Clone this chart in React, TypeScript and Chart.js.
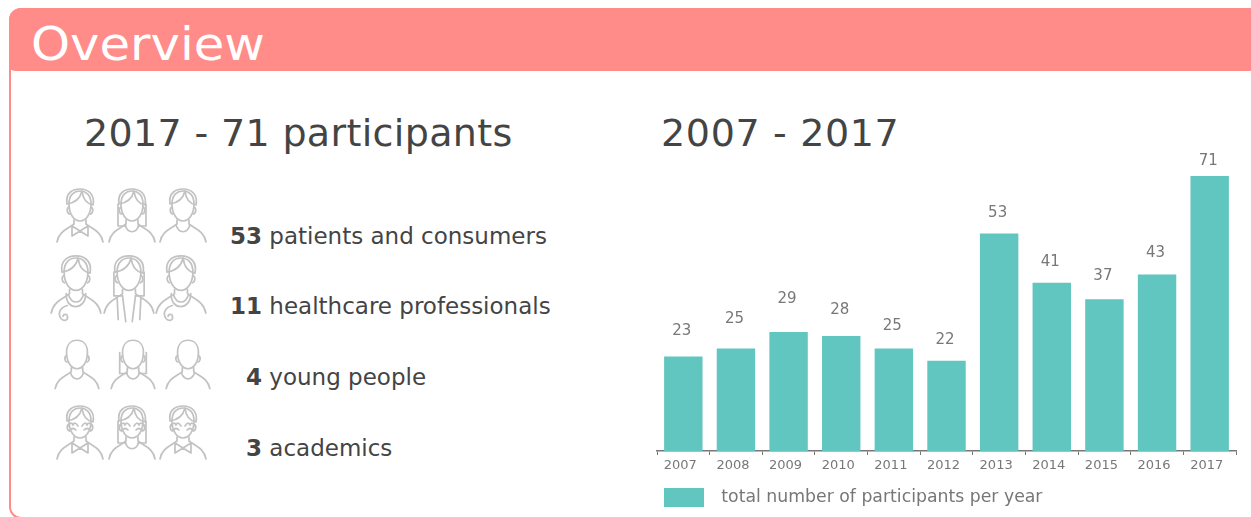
import React, { useEffect, useRef } from "react";
import { Chart, registerables } from "chart.js";

Chart.register(...registerables);

const years = ["2007", "2008", "2009", "2010", "2011", "2012", "2013", "2014", "2015", "2016", "2017"];
const participants = [23, 25, 29, 28, 25, 22, 53, 41, 37, 43, 71];
const seriesName = "total number of participants per year";
const groupCounts = ["53", "11", "4", "3"];
const groupNames = ["patients and consumers", "healthcare professionals", "young people", "academics"];

const FONT = '"DejaVu Sans", Verdana, sans-serif';
const TEAL = "#62C6C0";
const PINK = "#FF8C88";
const labelLift = [25, 29, 33, 26, 22, 21, 20, 21, 23, 21, 15];

const barLabels = {
  id: "barLabels",
  afterDatasetsDraw(chart: any) {
    const { ctx, chartArea } = chart;
    const meta = chart.getDatasetMeta(0);
    ctx.save();
    ctx.font = `15px ${FONT}`;
    ctx.fillStyle = "#777";
    ctx.textAlign = "center";
    ctx.textBaseline = "middle";
    meta.data.forEach((bar: any, i: number) => {
      const top = Math.max(bar.y, chartArea.top);
      ctx.fillText(String(participants[i]), bar.x - 1.5, top - labelLift[i]);
    });
    ctx.restore();
  },
};

function Person({ x, y, scale = 1, kind, hair, long, glasses, bow }: any) {
  const s = { fill: "none", stroke: "#c2c2c2", strokeWidth: 1.7 / scale, strokeLinecap: "round" as const, strokeLinejoin: "round" as const };
  return (
    <g transform={`translate(${x},${y}) scale(${scale})`} {...s}>
      <path d="M-11 -12 C-11 -2 -6 5 0 5 C6 5 11 -2 11 -12 C11 -21 6 -25 0 -25 C-6 -25 -11 -21 -11 -12 Z" />
      <path d="M-11 -9 q-3 2 -1 6 l1.5 1 M11 -9 q3 2 1 6 l-1.5 1" />
      {hair && <path d="M-13 -12 C-15 -24 -6 -27 0 -27 C9 -27 15 -21 13 -11 C8 -12 3 -16 2 -25 C0 -17 -6 -13 -13 -12 Z" />}
      {long && <path d="M-14 -12 L-14 10 L-6 10 M14 -12 L14 10 L6 10" />}
      {glasses && <path d="M-12 -7 q3 -5 5 -1 q2 -4 5 1 M2 -7 q3 -5 5 -1 q2 -4 5 1 M-10 -3 q3 -3 6 0 M4 -3 q3 -3 6 0" />}
      <path d="M-23 26 C-21 15 -12 13 -6 8 L-6 4 M23 26 C21 15 12 13 6 8 L6 4" />
      {!bow && kind !== "coat" && <path d="M-7 9 C-4 18 4 18 7 9" />}
      {bow && <path d="M0 15 L-8 10 L-8 20 Z M0 15 L8 10 L8 20 Z" />}
      {kind === "doctor" && <path d="M-9 8 C-10 24 9 24 9 8 M-8 19 C-15 21 -17 26 -14 31 C-11 34 -7 33 -8 29 C-8 26 -12 27 -12 29" />}
      {kind === "coat" && <path d="M-6 10 L-3 34 M6 10 L3 34 M-11 12 L-10 32 M11 12 L10 32" />}
    </g>
  );
}

const rows = [
  { y: 216, scale: 1, xs: [80, 132, 183], opts: [{ hair: 1, bow: 1 }, { hair: 1, long: 1 }, { hair: 1 }] },
  { y: 285, scale: 1.08, xs: [76, 129, 181], opts: [{ hair: 1, kind: "doctor" }, { hair: 1, long: 1, kind: "coat" }, { hair: 1, kind: "doctor" }] },
  { y: 364, scale: 0.95, xs: [77, 133, 188], opts: [{}, { long: 1 }, {}] },
  { y: 433, scale: 1, xs: [80, 132, 183], opts: [{ hair: 1, glasses: 1, bow: 1 }, { hair: 1, long: 1, glasses: 1 }, { hair: 1, glasses: 1, bow: 1 }] },
];
const textPos = [
  { x: 230, y: 237 },
  { x: 230, y: 307 },
  { x: 246, y: 378 },
  { x: 246, y: 449 },
];

export default function App() {
  const ref = useRef<HTMLCanvasElement>(null);
  useEffect(() => {
    const chart = new Chart(ref.current!, {
      type: "bar",
      data: {
        labels: years,
        datasets: [
          {
            label: seriesName,
            data: participants,
            backgroundColor: TEAL,
            barPercentage: 0.73,
            categoryPercentage: 1,
          },
        ],
      },
      plugins: [barLabels],
      options: {
        responsive: false,
        animation: false,
        layout: { padding: { left: 7, right: 15, top: 26, bottom: 0 } },
        scales: {
          y: { display: false, min: 0, max: 67, grid: { display: false } },
          x: {
            afterFit: (axis: any) => {
              axis.height = 30;
            },
            grid: { display: true, drawOnChartArea: false, tickLength: 4, color: "#777" },
            border: { color: "#777", width: 1.5 },
            ticks: { color: "#777", labelOffset: -3, font: { family: FONT, size: 13 }, maxRotation: 0, autoSkip: false, padding: 3 },
          },
        },
        plugins: {
          tooltip: { enabled: false },
          legend: {
            position: "bottom",
            align: "start",
            labels: {
              boxWidth: 40,
              boxHeight: 19,
              color: "#777",
              padding: 7,
              font: { family: FONT, size: 17.3 },
              generateLabels: (c: any) =>
                c.data.datasets.map((d: any, i: number) => ({
                  text: "\u2002" + d.label,
                  fillStyle: d.backgroundColor,
                  strokeStyle: d.backgroundColor,
                  lineWidth: 0,
                  fontColor: "#777",
                  datasetIndex: i,
                })),
            },
          },
        },
      },
    });
    return () => chart.destroy();
  }, []);

  const abs = (x: number, y: number): React.CSSProperties => ({ position: "absolute", left: x, top: y, whiteSpace: "nowrap", lineHeight: 1 });

  return (
    <div style={{ position: "fixed", left: 0, top: 0, width: 1251, height: 517, overflow: "hidden", background: "#fff", fontFamily: FONT, filter: "blur(0.5px)" }}>
      <div style={{ position: "absolute", left: 9, top: 8, width: 1300, height: 511, border: `2px solid ${PINK}`, borderRadius: 12, boxSizing: "border-box" }} />
      <div style={{ position: "absolute", left: 9, top: 8, width: 1300, height: 63, background: PINK, borderRadius: "12px 0 0 6px" }} />
      <div style={{ ...abs(31, 21), fontSize: 46, transform: "scaleX(1.08)", transformOrigin: "left center", color: "#fff" }}>Overview</div>
      <div style={{ ...abs(84, 114), fontSize: 38, letterSpacing: 0.34, color: "#444" }}>2017 - 71 participants</div>
      <div style={{ ...abs(661, 114), fontSize: 38, letterSpacing: 0.65, color: "#444" }}>2007 - 2017</div>
      <svg width="240" height="300" viewBox="0 180 240 300" style={{ position: "absolute", left: 0, top: 180 }}>
        {rows.map((r, ri) => r.xs.map((x, i) => <Person key={`${ri}-${i}`} x={x} y={r.y} scale={r.scale} {...r.opts[i]} />))}
      </svg>
      {groupNames.map((name, i) => (
        <div key={name} style={{ ...abs(textPos[i].x, textPos[i].y - 12), fontSize: 23, color: "#444" }}>
          <b>{groupCounts[i]}</b> {name}
        </div>
      ))}
      <canvas ref={ref} width={601} height={367} style={{ position: "absolute", left: 650, top: 150 }} />
    </div>
  );
}
